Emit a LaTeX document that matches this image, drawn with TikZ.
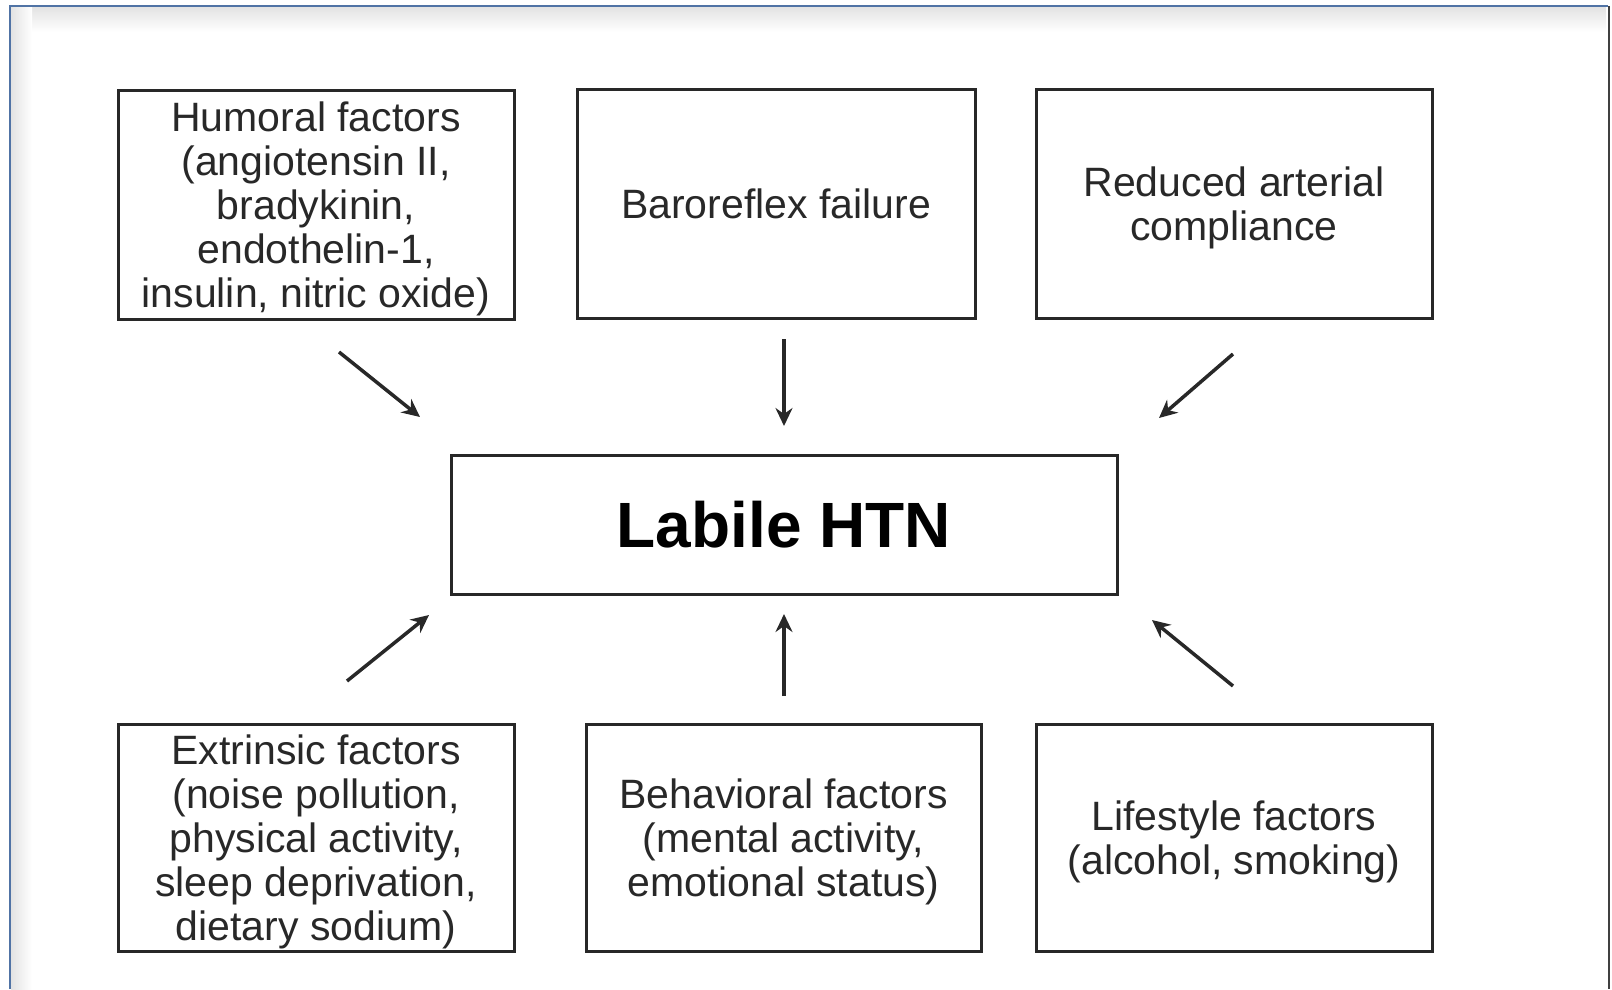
\documentclass[tikz,border=0pt]{standalone}
\usepackage{fontspec}
\setmainfont{Liberation Sans}
\usetikzlibrary{arrows.meta}
\definecolor{framebl}{RGB}{80,115,165}
\definecolor{ink}{RGB}{40,40,40}
\newcommand{\topstrut}{\rule{0pt}{38pt}}
\tikzset{
  factor/.style={draw=ink, line width=3pt, inner sep=0pt, align=center, text=ink,
    font=\fontsize{41}{44}\selectfont},
  central/.style={draw=ink, line width=3pt, inner sep=0pt, align=center, text=black,
    font=\fontsize{64}{70}\selectfont\bfseries},
  arr/.style={draw=ink, line width=3.5pt, -{Stealth[length=18pt,width=17pt,inset=6pt]}}
}
\begin{document}
\begin{tikzpicture}[x=1pt,y=-1pt]
\useasboundingbox (0,0) rectangle (1612,989);
% frame with soft inner shadow
\shade[top color=gray!22, bottom color=white] (11,7) rectangle (1606,32);
\shade[left color=gray!22, right color=white] (11,7) rectangle (32,989);
\draw[framebl, line width=2.5pt] (10,989) -- (10,6) -- (1608,6);
\draw[black!75, line width=2.5pt] (1609,6) -- (1609,989);

% boxes
\node[factor, minimum width=396pt, minimum height=229pt] (hum) at (316,204.5)
  {\topstrut Humoral factors\\(angiotensin II,\\bradykinin,\\endothelin-1,\\insulin, nitric oxide)};
\node[factor, minimum width=398pt, minimum height=229pt] (baro) at (776,203.5)
  {Baroreflex failure};
\node[factor, minimum width=396pt, minimum height=229pt] (comp) at (1234,203.5)
  {\topstrut Reduced arterial\\compliance};
\node[central, minimum width=666pt, minimum height=139pt] (htn) at (784,524.5)
  {Labile HTN};
\node[factor, minimum width=396pt, minimum height=227pt] (ext) at (316,837.5)
  {\topstrut Extrinsic factors\\(noise pollution,\\physical activity,\\sleep deprivation,\\dietary sodium)};
\node[factor, minimum width=395pt, minimum height=227pt] (beh) at (783.5,837.5)
  {\topstrut Behavioral factors\\(mental activity,\\emotional status)};
\node[factor, minimum width=396pt, minimum height=227pt] (life) at (1234,837.5)
  {\topstrut Lifestyle factors\\(alcohol, smoking)};

% arrow end points
\coordinate (a1s) at (339,352); \coordinate (a1e) at (420,417);
\coordinate (a2s) at (784,339); \coordinate (a2e) at (784,426);
\coordinate (a3s) at (1233,354); \coordinate (a3e) at (1159,418);
\coordinate (a4s) at (347,681); \coordinate (a4e) at (429,615);
\coordinate (a5s) at (784,696); \coordinate (a5e) at (784,614);
\coordinate (a6s) at (1233,686); \coordinate (a6e) at (1152,620);

\draw[arr] (a1s) -- (a1e);
\draw[arr] (a2s) -- (a2e);
\draw[arr] (a3s) -- (a3e);
\draw[arr] (a4s) -- (a4e);
\draw[arr] (a5s) -- (a5e);
\draw[arr] (a6s) -- (a6e);
\end{tikzpicture}
\end{document}
